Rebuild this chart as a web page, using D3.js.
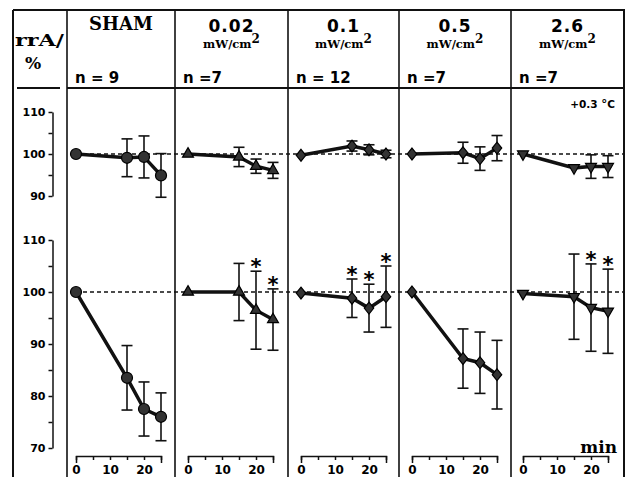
<!doctype html>
<html lang="en">
    <head>
        <meta charset="utf-8">
        <title>rrA time course</title>
        <script type="text/javascript" src="https://cdn.jsdelivr.net/npm/d3@7/dist/d3.min.js"></script>
        <style>
            body { margin: 0; background: #fff; }
            svg { display: block; }
        </style>
    </head>
    <body>
        <script type="text/javascript">
            var groups = ["SHAM", "0.02", "0.1", "0.5", "2.6"];
            var unitLabels = ["", "mW/cm", "mW/cm", "mW/cm", "mW/cm"];
            var nLabels = ["n = 9", "n =7", "n = 12", "n =7", "n =7"];
            var markers = ["circle", "triangle", "diamond", "diamond", "triangleDown"];
            var times = [0, 15, 20, 25];
            var xTicks = [0, 5, 10, 15, 20, 25];
            var xTickLabels = ["0", "", "10", "", "20", ""];
            var topTicks = [90, 95, 100, 105, 110];
            var bottomTicks = [70, 75, 80, 85, 90, 95, 100, 105, 110];

            // upper row: mean and error per group
            var topMean = [
                [100, 99.1, 99.3, 94.9],
                [100, 99.3, 97.1, 96.1],
                [99.7, 101.9, 101.0, 100.0],
                [100, 100.3, 98.9, 101.4],
                [100, 96.7, 97.0, 97.0]
            ];
            var topErr = [
                [0, 4.5, 5.0, 5.2],
                [0, 2.3, 1.7, 1.9],
                [0, 1.2, 1.2, 0.9],
                [0, 2.5, 2.8, 3.0],
                [0, 0, 2.8, 2.6]
            ];

            // lower row
            var bottomMean = [
                [100, 83.5, 77.5, 76.0],
                [100, 100.0, 96.5, 94.7],
                [99.8, 98.8, 96.9, 99.1],
                [100, 87.2, 86.4, 84.1],
                [99.7, 99.1, 97.0, 96.3]
            ];
            var bottomErr = [
                [0, 6.2, 5.2, 4.6],
                [0, 5.5, 7.5, 5.9],
                [0, 3.7, 4.6, 5.9],
                [0, 5.7, 5.9, 6.6],
                [0, 8.2, 8.4, 8.1]
            ];
            var bottomStar = [
                [0, 0, 0, 0],
                [0, 0, 1, 1],
                [0, 1, 1, 1],
                [0, 0, 0, 0],
                [0, 0, 1, 1]
            ];

            var svgW = 629;
            var svgH = 477;
            var divX = [67, 175, 288, 399, 511, 624];
            var axisX0 = [76, 188, 301, 412, 523];
            var axisLen = 85;
            var frame = {left: 13, top: 10, header: 88};
            var yAxisX = 52.5;

            var serif = "'DejaVu Serif', serif";
            var sans = "'DejaVu Sans', sans-serif";

            var svg = d3.select("body")
                        .append("svg")
                        .attr("width", svgW)
                        .attr("height", svgH);

            var yTop = d3.scaleLinear().domain([90, 110]).range([196, 112]);
            var yBot = d3.scaleLinear().domain([70, 110]).range([448, 240]);

            // frame and dividers
            var frameG = svg.append("g")
                            .attr("stroke", "#111")
                            .attr("stroke-width", 2);
            frameG.append("line")
                  .attr("x1", frame.left).attr("y1", frame.top)
                  .attr("x2", divX[5] + 1).attr("y2", frame.top);
            frameG.append("line")
                  .attr("x1", frame.left).attr("y1", frame.top)
                  .attr("x2", frame.left).attr("y2", svgH);
            frameG.selectAll("line.div")
                  .data(divX)
                  .enter()
                  .append("line")
                  .attr("class", "div")
                  .attr("stroke-width", (_, i) => i == 5 ? 2 : 1.6)
                  .attr("x1", d => d).attr("y1", frame.top)
                  .attr("x2", d => d).attr("y2", svgH);
            frameG.append("line")
                  .attr("x1", divX[0]).attr("y1", frame.header)
                  .attr("x2", divX[5]).attr("y2", frame.header);
            frameG.append("line")
                  .attr("x1", 17).attr("y1", frame.header)
                  .attr("x2", 60).attr("y2", frame.header);

            // header
            svg.append("text")
               .attr("x", 15).attr("y", 46)
               .attr("font-family", serif).attr("font-weight", "bold")
               .attr("font-size", 17)
               .attr("textLength", 49)
               .attr("lengthAdjust", "spacingAndGlyphs")
               .text("rrA/");
            svg.append("text")
               .attr("x", 25).attr("y", 69)
               .attr("font-family", serif).attr("font-weight", "bold")
               .attr("font-size", 17)
               .text("%");

            var heads = svg.selectAll("g.head")
                           .data(groups)
                           .enter()
                           .append("g")
                           .attr("class", "head");

            heads.append("text")
                 .attr("x", (_, i) => (divX[i] + divX[i + 1]) / 2)
                 .attr("y", (_, i) => i == 0 ? 30 : 32)
                 .attr("text-anchor", "middle")
                 .attr("font-family", (_, i) => i == 0 ? serif : sans)
                 .attr("font-weight", "bold")
                 .attr("font-size", (_, i) => i == 0 ? 18 : 17)
                 .attr("letter-spacing", (_, i) => i == 0 ? 0 : 1)
                 .text(d => d);

            var units = heads.filter((_, i) => unitLabels[i] != "")
                             .append("text")
                             .attr("x", d => { var i = groups.indexOf(d); return (divX[i] + divX[i + 1]) / 2; })
                             .attr("y", 48)
                             .attr("text-anchor", "middle")
                             .attr("font-family", serif)
                             .attr("font-weight", "bold")
                             .attr("font-size", 11.5);
            units.append("tspan").text(d => unitLabels[groups.indexOf(d)]);
            units.append("tspan").attr("dy", -5).attr("font-size", 12).text("2");

            heads.append("text")
                 .attr("x", (_, i) => divX[i] + 8)
                 .attr("y", 83)
                 .attr("font-family", sans)
                 .attr("font-weight", "bold")
                 .attr("font-size", 15)
                 .text((_, i) => nLabels[i]);

            // y axes
            function styleAxis(g, size) {
                g.attr("font-family", sans)
                 .attr("font-size", size)
                 .attr("font-weight", "bold");
                g.selectAll("path, line")
                 .attr("stroke", "#111")
                 .attr("stroke-width", 1.5);
            }

            var yAxisTop = svg.append("g")
                              .attr("transform", "translate(" + yAxisX + ",0)")
                              .call(d3.axisLeft(yTop)
                                      .tickValues(topTicks)
                                      .tickSize(4)
                                      .tickSizeOuter(0)
                                      .tickPadding(3)
                                      .tickFormat(d => d % 10 == 0 ? d : ""));
            styleAxis(yAxisTop, 11);

            var yAxisBot = svg.append("g")
                              .attr("transform", "translate(" + yAxisX + ",0)")
                              .call(d3.axisLeft(yBot)
                                      .tickValues(bottomTicks)
                                      .tickSize(4)
                                      .tickSizeOuter(0)
                                      .tickPadding(3)
                                      .tickFormat(d => d % 10 == 0 ? d : ""));
            styleAxis(yAxisBot, 11);

            // reference lines at 100 %
            [yTop, yBot].forEach(y => {
                svg.append("line")
                   .attr("x1", axisX0[0]).attr("x2", divX[5] - 1)
                   .attr("y1", y(100)).attr("y2", y(100))
                   .attr("stroke", "#111")
                   .attr("stroke-width", 1.6)
                   .attr("stroke-dasharray", "4,3");
            });

            var diamond = {
                draw: function (c, size) {
                    var r = Math.sqrt(size) / 2;
                    c.moveTo(0, -r * 1.25);
                    c.lineTo(r, 0);
                    c.lineTo(0, r * 1.25);
                    c.lineTo(-r, 0);
                    c.closePath();
                }
            };
            var symbolFor = {
                circle: d3.symbol(d3.symbolCircle, 95),
                triangle: d3.symbol(d3.symbolTriangle, 52),
                triangleDown: d3.symbol(d3.symbolTriangle, 52),
                diamond: d3.symbol(diamond, 90)
            };

            groups.forEach((g, gi) => {
                var x = d3.scaleLinear()
                          .domain([0, 25])
                          .range([axisX0[gi], axisX0[gi] + axisLen]);

                var xAxis = svg.append("g")
                               .attr("transform", "translate(0,456)")
                               .call(d3.axisBottom(x)
                                       .tickValues(xTicks)
                                       .tickSize(4)
                                       .tickSizeOuter(7)
                                       .tickPadding(5.5)
                                       .tickFormat((_, i) => xTickLabels[i]));
                styleAxis(xAxis, 12);

                [[yTop, topMean[gi], topErr[gi], null],
                 [yBot, bottomMean[gi], bottomErr[gi], bottomStar[gi]]].forEach(row => {
                    var y = row[0];
                    var pts = times.map((t, i) => ({t: t, m: row[1][i], e: row[2][i], s: row[3] ? row[3][i] : 0}));
                    var panel = svg.append("g");

                    panel.append("path")
                         .datum(pts)
                         .attr("fill", "none")
                         .attr("stroke", "#111")
                         .attr("stroke-width", 3.5)
                         .attr("d", d3.line().x(d => x(d.t)).y(d => y(d.m)));

                    var bars = panel.selectAll("g.err")
                                    .data(pts.filter(d => d.e > 0))
                                    .enter()
                                    .append("g")
                                    .attr("class", "err")
                                    .attr("stroke", "#111")
                                    .attr("stroke-width", 1.6);
                    bars.append("line")
                        .attr("x1", d => x(d.t)).attr("x2", d => x(d.t))
                        .attr("y1", d => y(d.m + d.e)).attr("y2", d => y(d.m - d.e));
                    bars.append("line")
                        .attr("x1", d => x(d.t) - 5.5).attr("x2", d => x(d.t) + 5.5)
                        .attr("y1", d => y(d.m + d.e)).attr("y2", d => y(d.m + d.e));
                    bars.append("line")
                        .attr("x1", d => x(d.t) - 5.5).attr("x2", d => x(d.t) + 5.5)
                        .attr("y1", d => y(d.m - d.e)).attr("y2", d => y(d.m - d.e));

                    panel.selectAll("path.mark")
                         .data(pts)
                         .enter()
                         .append("path")
                         .attr("class", "mark")
                         .attr("d", symbolFor[markers[gi]])
                         .attr("transform", d => "translate(" + x(d.t) + "," + y(d.m) + ")" +
                                                 (markers[gi] == "triangleDown" ? " rotate(180)" : ""))
                         .attr("fill", "#333")
                         .attr("stroke", "#000")
                         .attr("stroke-width", 1.2);

                    panel.selectAll("text.star")
                         .data(pts.filter(d => d.s))
                         .enter()
                         .append("text")
                         .attr("class", "star")
                         .attr("x", d => x(d.t))
                         .attr("y", d => y(d.m + d.e) + 3)
                         .attr("text-anchor", "middle")
                         .attr("font-family", sans)
                         .attr("font-weight", "bold")
                         .attr("font-size", 21)
                         .text("*");
                });
            });

            var temp = svg.append("text")
                          .attr("x", 615).attr("y", 108)
                          .attr("text-anchor", "end")
                          .attr("font-family", sans)
                          .attr("font-weight", "bold")
                          .attr("font-size", 10.5);
            temp.append("tspan").text("+0.3 ");
            temp.append("tspan").attr("font-size", 12).text("°");
            temp.append("tspan").text("C");

            svg.append("text")
               .attr("x", 617).attr("y", 453)
               .attr("text-anchor", "end")
               .attr("font-family", serif)
               .attr("font-weight", "bold")
               .attr("font-size", 17)
               .text("min");
        </script>
    </body>
</html>
